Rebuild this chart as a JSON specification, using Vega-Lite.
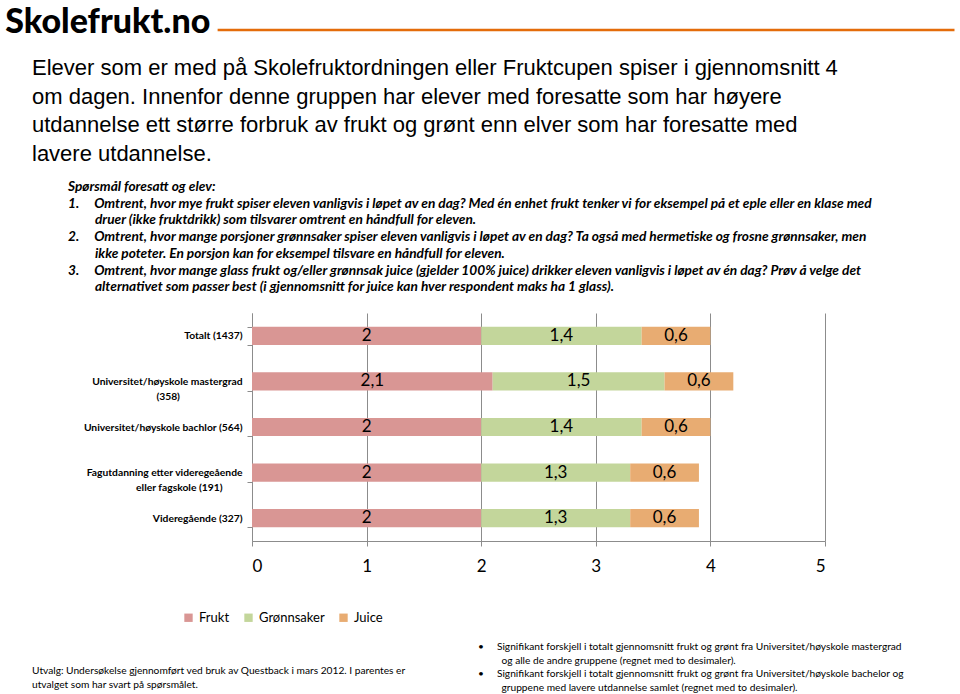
{
  "$schema": "https://vega.github.io/schema/vega-lite/v6.json",
  "background": "white",
  "padding": {"left": 5, "top": 0, "right": 0, "bottom": 0},
  "config": {
    "view": {"stroke": null},
    "locale": {"number": {"decimal": ",", "thousands": "\u00a0", "grouping": [3], "currency": ["", " kr"]}}
  },
  "resolve": {"legend": {"color": "independent"}},
  "spacing": 17,
  "vconcat": [
    {
      "width": 573,
      "height": 40,
      "data": {"values": [{"linje": 0}]},
      "mark": {"type": "rule", "color": "#E46C0A", "strokeWidth": 2.5},
      "encoding": {
        "x": {"datum": -0.3, "type": "quantitative", "scale": {"domain": [0, 5]}, "axis": null},
        "x2": {"datum": 6.13},
        "y": {"datum": -0.5, "type": "quantitative", "scale": {"domain": [-1, 1]}, "axis": null}
      },
      "title": {
        "text": "Skolefrukt.no",
        "orient": "left",
        "angle": 0,
        "align": "left",
        "baseline": "middle",
        "anchor": "middle",
        "dy": 3,
        "fontSize": 34,
        "font": "Lato",
        "fontWeight": 900,
        "color": "black",
        "offset": 6
      }
    },
    {
      "width": 573,
      "height": 228,
      "data": {
        "values": [
          {"group": "Totalt (1437)", "kategori": "Frukt", "verdi": 2.0, "rekkefolge": 1},
          {"group": "Totalt (1437)", "kategori": "Grønnsaker", "verdi": 1.4, "rekkefolge": 2},
          {"group": "Totalt (1437)", "kategori": "Juice", "verdi": 0.6, "rekkefolge": 3},
          {"group": "Universitet/høyskole mastergrad (358)", "kategori": "Frukt", "verdi": 2.1, "rekkefolge": 1},
          {"group": "Universitet/høyskole mastergrad (358)", "kategori": "Grønnsaker", "verdi": 1.5, "rekkefolge": 2},
          {"group": "Universitet/høyskole mastergrad (358)", "kategori": "Juice", "verdi": 0.6, "rekkefolge": 3},
          {"group": "Universitet/høyskole bachlor (564)", "kategori": "Frukt", "verdi": 2.0, "rekkefolge": 1},
          {"group": "Universitet/høyskole bachlor (564)", "kategori": "Grønnsaker", "verdi": 1.4, "rekkefolge": 2},
          {"group": "Universitet/høyskole bachlor (564)", "kategori": "Juice", "verdi": 0.6, "rekkefolge": 3},
          {"group": "Fagutdanning etter videregeående eller fagskole (191)", "kategori": "Frukt", "verdi": 2.0, "rekkefolge": 1},
          {"group": "Fagutdanning etter videregeående eller fagskole (191)", "kategori": "Grønnsaker", "verdi": 1.3, "rekkefolge": 2},
          {"group": "Fagutdanning etter videregeående eller fagskole (191)", "kategori": "Juice", "verdi": 0.6, "rekkefolge": 3},
          {"group": "Videregående (327)", "kategori": "Frukt", "verdi": 2.0, "rekkefolge": 1},
          {"group": "Videregående (327)", "kategori": "Grønnsaker", "verdi": 1.3, "rekkefolge": 2},
          {"group": "Videregående (327)", "kategori": "Juice", "verdi": 0.6, "rekkefolge": 3}
        ]
      },
      "title": {
        "text": [
          "Elever som er med på Skolefruktordningen eller Fruktcupen spiser i gjennomsnitt 4",
          "om dagen. Innenfor denne gruppen  har elever med foresatte som har høyere",
          "utdannelse ett større forbruk av frukt og grønt enn elver som har foresatte med",
          "lavere utdannelse."
        ],
        "anchor": "start",
        "frame": "group",
        "dx": -220,
        "fontSize": 22,
        "font": "Liberation Sans",
        "fontWeight": "normal",
        "lineHeight": 28.7,
        "color": "black",
        "offset": 13,
        "subtitle": [
          "\u200b\u00a0\u00a0\u00a0\u00a0\u00a0\u00a0\u00a0\u00a0\u00a0\u00a0\u00a0\u00a0Spørsmål  foresatt og elev:",
          "\u200b\u00a0\u00a0\u00a0\u00a0\u00a0\u00a0\u00a0\u00a0\u00a0\u00a0\u00a0\u00a01.\u00a0\u00a0\u00a0\u00a0\u00a0Omtrent, hvor mye frukt spiser eleven vanligvis i løpet av en dag? Med én enhet frukt tenker vi for eksempel på et eple eller en klase med",
          "\u200b\u00a0\u00a0\u00a0\u00a0\u00a0\u00a0\u00a0\u00a0\u00a0\u00a0\u00a0\u00a0\u00a0\u00a0\u00a0\u00a0\u00a0\u00a0\u00a0\u00a0\u00a0druer (ikke fruktdrikk) som tilsvarer omtrent en håndfull for eleven.",
          "\u200b\u00a0\u00a0\u00a0\u00a0\u00a0\u00a0\u00a0\u00a0\u00a0\u00a0\u00a0\u00a02.\u00a0\u00a0\u00a0\u00a0\u00a0Omtrent, hvor mange porsjoner grønnsaker spiser eleven vanligvis i løpet av en dag? Ta også med hermetiske og frosne grønnsaker, men",
          "\u200b\u00a0\u00a0\u00a0\u00a0\u00a0\u00a0\u00a0\u00a0\u00a0\u00a0\u00a0\u00a0\u00a0\u00a0\u00a0\u00a0\u00a0\u00a0\u00a0\u00a0\u00a0ikke poteter. En porsjon kan for eksempel tilsvare en håndfull for eleven.",
          "\u200b\u00a0\u00a0\u00a0\u00a0\u00a0\u00a0\u00a0\u00a0\u00a0\u00a0\u00a0\u00a03.\u00a0\u00a0\u00a0\u00a0\u00a0Omtrent, hvor mange glass frukt og/eller grønnsak juice (gjelder 100% juice) drikker eleven vanligvis i løpet av én dag? Prøv å velge det",
          "\u200b\u00a0\u00a0\u00a0\u00a0\u00a0\u00a0\u00a0\u00a0\u00a0\u00a0\u00a0\u00a0\u00a0\u00a0\u00a0\u00a0\u00a0\u00a0\u00a0\u00a0\u00a0alternativet som passer best (i gjennomsnitt for juice kan hver respondent maks ha 1 glass)."
        ],
        "subtitleFont": "Lato",
        "subtitleFontSize": 13.7,
        "subtitleFontStyle": "italic",
        "subtitleFontWeight": "bold",
        "subtitleLineHeight": 16.7,
        "subtitlePadding": 14,
        "subtitleColor": "black"
      },
      "encoding": {
        "y": {
          "field": "group",
          "type": "nominal",
          "sort": null,
          "scale": {"paddingInner": 0.6, "paddingOuter": 0.3},
          "axis": {
            "title": null,
            "ticks": true,
            "tickBand": "extent",
            "tickSize": 5,
            "tickColor": "#8c8c8c",
            "domainColor": "#8c8c8c",
            "labelFont": "Lato",
            "labelFontSize": 10.3,
            "labelFontWeight": "bold",
            "labelColor": "black",
            "labelPadding": 5,
            "labelLimit": 300,
            "labelLineHeight": 15,
            "labelExpr": "datum.value == 'Universitet/høyskole mastergrad (358)' ? ['Universitet/høyskole mastergrad', '(358)\u00a0\u00a0\u00a0\u00a0\u00a0\u00a0\u00a0\u00a0\u00a0\u00a0\u00a0\u00a0\u00a0\u00a0\u00a0\u00a0\u00a0\u00a0\u00a0\u00a0\u00a0\u00a0\u00a0\u00a0\u00a0\u200b'] : datum.value == 'Fagutdanning etter videregeående eller fagskole (191)' ? ['Fagutdanning etter videregeående', 'eller fagskole (191)\u00a0\u00a0\u00a0\u00a0\u00a0\u00a0\u00a0\u00a0\u200b'] : datum.value"
          }
        }
      },
      "layer": [
        {
          "mark": {"type": "bar"},
          "encoding": {
            "x": {
              "field": "verdi",
              "type": "quantitative",
              "stack": "zero",
              "scale": {"domain": [0, 5]},
              "axis": {
                "title": null,
                "tickCount": 5,
                "format": "d",
                "grid": true,
                "gridColor": "#8c8c8c",
                "domainColor": "#8c8c8c",
                "tickColor": "#8c8c8c",
                "tickSize": 5,
                "labelFont": "Lato",
                "labelFontSize": 17,
                "labelColor": "black",
                "labelPadding": 12
              }
            },
            "color": {
              "field": "kategori",
              "type": "nominal",
              "scale": {"domain": ["Frukt", "Grønnsaker", "Juice"], "range": ["#D99694", "#C3D69B", "#E8AC72"]},
              "legend": {
                "title": null,
                "orient": "none",
                "legendX": -70,
                "legendY": 298,
                "direction": "horizontal",
                "symbolType": "square",
                "symbolSize": 70,
                "symbolStrokeWidth": 0,
                "labelFont": "Lato",
                "labelFontSize": 13,
                "labelColor": "black",
                "labelOffset": 4,
                "columnPadding": 12
              }
            },
            "order": {"field": "rekkefolge", "type": "quantitative"}
          }
        },
        {
          "transform": [
            {"stack": "verdi", "groupby": ["group"], "sort": [{"field": "rekkefolge"}], "as": ["x0", "x1"]},
            {"fold": ["x0", "x1"], "as": ["ende", "pos"]},
            {"aggregate": [{"op": "mean", "field": "pos", "as": "midt"}], "groupby": ["group", "kategori", "verdi"]}
          ],
          "mark": {"type": "text", "font": "Lato", "fontSize": 17, "color": "black", "baseline": "middle"},
          "encoding": {
            "x": {"field": "midt", "type": "quantitative"},
            "text": {"field": "verdi", "type": "quantitative", "format": ".1~f"}
          }
        }
      ]
    },
    {
      "spacing": 0,
      "hconcat": [
        {
          "width": 226,
          "height": 1,
          "data": {"values": []},
          "mark": "point",
          "title": {
            "text": [
              "Utvalg: Undersøkelse gjennomført ved bruk av Questback i mars 2012. I parentes er",
              "utvalget som har svart på spørsmålet."
            ],
            "anchor": "start",
            "frame": "group",
            "dx": -220,
            "dy": -3,
            "font": "Lato",
            "fontSize": 10.2,
            "fontWeight": "normal",
            "lineHeight": 13.5,
            "color": "black"
          }
        },
        {
          "width": 440,
          "height": 1,
          "data": {"values": []},
          "mark": "point",
          "title": {
            "text": [
              "•\u00a0\u00a0\u00a0\u00a0\u00a0Signifikant forskjell i totalt gjennomsnitt frukt og grønt fra Universitet/høyskole mastergrad",
              "\u200b\u00a0\u00a0\u00a0\u00a0\u00a0\u00a0\u00a0\u00a0\u00a0og alle de andre gruppene (regnet med to desimaler).",
              "•\u00a0\u00a0\u00a0\u00a0\u00a0Signifikant forskjell i totalt gjennomsnitt frukt og grønt fra Universitet/høyskole bachelor og",
              "\u200b\u00a0\u00a0\u00a0\u00a0\u00a0\u00a0\u00a0\u00a0\u00a0gruppene  med lavere utdannelse samlet (regnet med to desimaler)."
            ],
            "anchor": "start",
            "frame": "group",
            "font": "Lato",
            "fontSize": 10.2,
            "fontWeight": "normal",
            "lineHeight": 13.5,
            "color": "black"
          }
        }
      ]
    }
  ]
}
